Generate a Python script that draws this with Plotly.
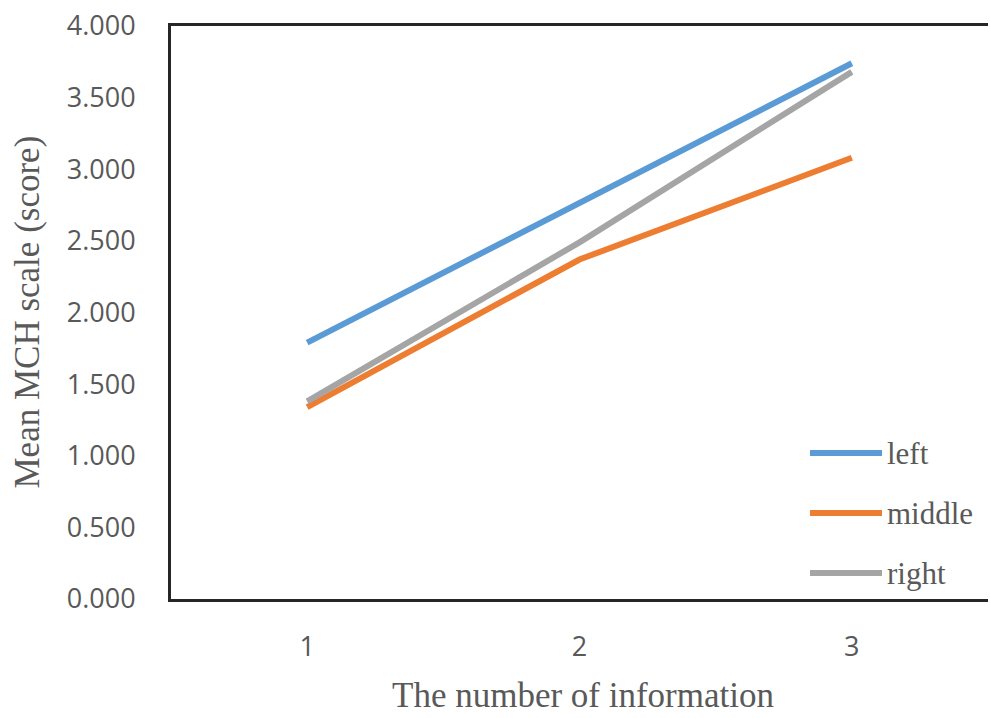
import plotly.graph_objects as go

# Number of information items shown (x) and mean MCH scale per position
info_counts = [1, 2, 3]
series_names = ["left", "middle", "right"]
left_vals = [1.79, 2.76, 3.74]
middle_vals = [1.34, 2.37, 3.08]
right_vals = [1.38, 2.49, 3.68]
y_ticks = [0.0, 0.5, 1.0, 1.5, 2.0, 2.5, 3.0, 3.5, 4.0]

colors = ["#5B9BD5", "#ED7D31", "#A5A5A5"]
values = [left_vals, middle_vals, right_vals]

fig = go.Figure()
for name, vals, col in zip(series_names, values, colors):
    fig.add_trace(go.Scatter(
        x=info_counts, y=vals, mode="lines", name=name,
        line=dict(color=col, width=6), showlegend=False,
    ))

tick_font = dict(family="Open Sans, Noto Sans, sans-serif", size=27, color="#595959")
serif = "Liberation Serif, Times New Roman, serif"

fig.update_layout(
    width=990, height=718,
    margin=dict(l=171, r=2, t=26, b=119),
    paper_bgcolor="white", plot_bgcolor="white",
    xaxis=dict(
        range=[0.5, 3.5], tickvals=info_counts, ticktext=[str(v) for v in info_counts],
        showgrid=False, zeroline=False, showline=True, mirror=True,
        linecolor="#262626", linewidth=3, ticks="", tickfont=tick_font,
        ticklabelstandoff=22,
    ),
    yaxis=dict(
        range=[0, 4], tickvals=y_ticks, tickformat=".3f",
        showgrid=False, zeroline=False, showline=True, mirror=False,
        linecolor="#262626", linewidth=3, ticks="", tickfont=tick_font,
        ticklabelstandoff=27,
    ),
)

# Axis titles
fig.add_annotation(
    text="The number of information", xref="paper", yref="paper",
    x=0.5, y=0, xanchor="center", yanchor="middle", yshift=-96, xshift=3,
    showarrow=False, font=dict(family=serif, size=35, color="#595959"),
)
fig.add_annotation(
    text="Mean MCH scale (score)", xref="paper", yref="paper",
    x=0, y=0.5, xanchor="center", yanchor="middle", xshift=-144,
    textangle=-90, showarrow=False,
    font=dict(family=serif, size=35, color="#595959"),
)

# Legend: line swatch plus label for each series
legend_rows_px = [453, 513, 573]
plot_top, plot_h = 26, 573
plot_left, plot_w = 171, 817
for name, col, ypx in zip(series_names, colors, legend_rows_px):
    yp = 1 - (ypx - plot_top) / plot_h
    x0 = (810 - plot_left) / plot_w
    x1 = (882 - plot_left) / plot_w
    fig.add_shape(type="line", xref="paper", yref="paper",
                  x0=x0, x1=x1, y0=yp, y1=yp,
                  line=dict(color=col, width=6))
    fig.add_annotation(
        text=name, xref="paper", yref="paper", x=x1, y=yp,
        xanchor="left", yanchor="middle", xshift=3, showarrow=False,
        font=dict(family=serif, size=31, color="#595959"),
    )

fig.write_html("out.html")
